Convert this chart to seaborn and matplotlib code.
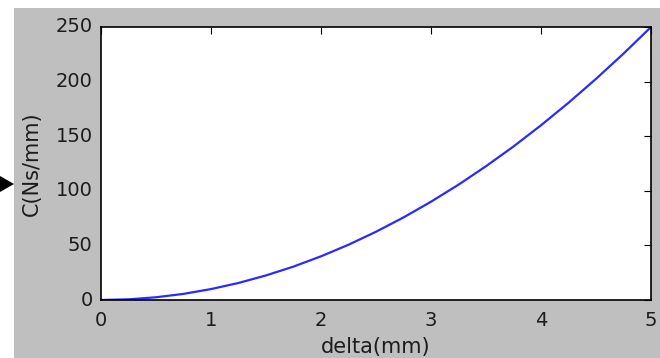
import numpy as np
import pandas as pd
import seaborn as sns
import matplotlib.pyplot as plt
from matplotlib.patches import Rectangle, Polygon

plt.style.use('classic')
sns.set_style("white", {'axes.edgecolor': 'black', 'xtick.direction': 'in', 'ytick.direction': 'in'})
plt.rcParams['font.family'] = ['DejaVu Sans']

# values
delta = [0, 0.25, 0.5, 0.75, 1, 1.25, 1.5, 1.75, 2, 2.25, 2.5, 2.75,
         3, 3.25, 3.5, 3.75, 4, 4.25, 4.5, 4.75, 5]
C = [0, 0.6, 2.5, 5.6, 10, 15.6, 22.5, 30.6, 40, 50.6, 62.5, 75.6,
     90, 105.6, 122.5, 140.6, 160, 180.6, 202.5, 225.6, 250]
x_ticks = [0, 1, 2, 3, 4, 5]
y_ticks = [0, 50, 100, 150, 200, 250]

df = pd.DataFrame({'delta': delta, 'C': C})
txt = '#1c1c1c'

W, H = 660, 358
fig = plt.figure(figsize=(6.6, 3.58), dpi=100, facecolor='white')
# grey screenshot region with white margin on left/top
fig.patches.append(Rectangle((14 / W, 0), 1 - 14 / W, 1 - 8 / H, transform=fig.transFigure,
                             facecolor='#bfbfbf', edgecolor='none', zorder=-10))
# black arrow marker at the left edge
fig.patches.append(Polygon([(0, 1 - 176 / H), (14 / W, 1 - 184 / H), (0, 1 - 192 / H)],
                           closed=True, transform=fig.transFigure, facecolor='black',
                           edgecolor='none'))

ax = fig.add_axes([101 / W, 1 - 300 / H, 550 / W, 273 / H])
ax.set_facecolor('white')
sns.lineplot(x='delta', y='C', data=df, ax=ax, color='#2a2aff', linewidth=1.6)
ax.set_xlim(0, 5)
ax.set_ylim(0, 250)
ax.set_xticks(x_ticks)
ax.set_yticks(y_ticks)
for s in ax.spines.values():
    s.set_color('black')
    s.set_linewidth(1.2)
    s.set_visible(True)
ax.tick_params(direction='in', length=5, width=0.8, top=True, right=True,
               labelsize=14, colors='black', labelcolor=txt, pad=6)
ax.tick_params(axis='x', pad=8)
ax.set_xlabel('delta(mm)', fontsize=15, labelpad=5, color=txt)
ax.set_ylabel('C(Ns/mm)', fontsize=15, labelpad=10, color=txt)
ax.grid(False)

fig.savefig('out.png', dpi=100, facecolor=fig.get_facecolor())
